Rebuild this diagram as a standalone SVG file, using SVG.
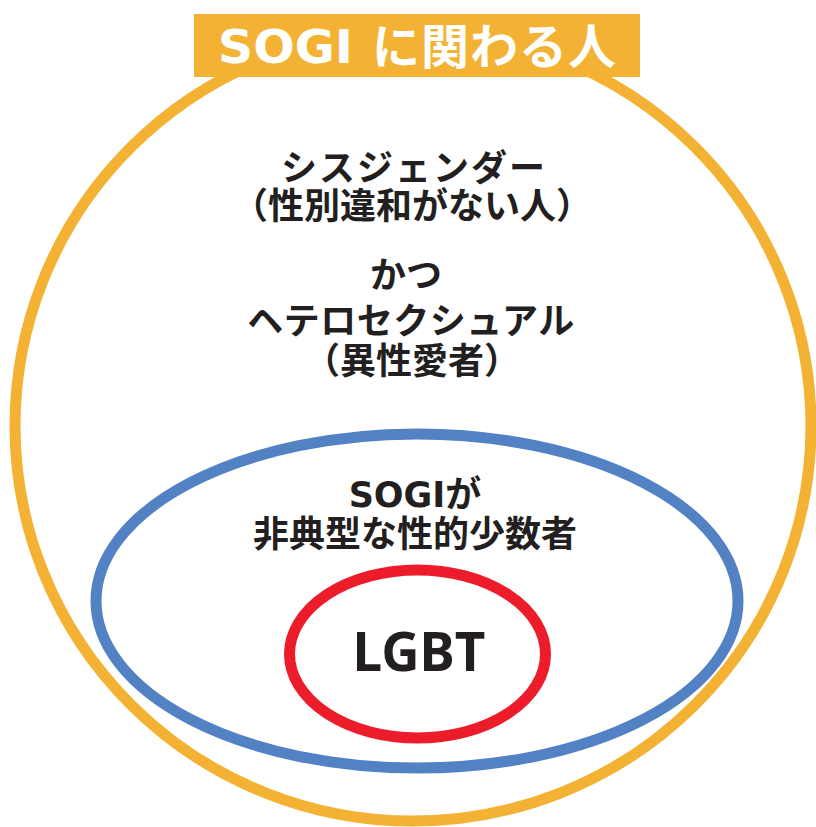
<svg xmlns="http://www.w3.org/2000/svg" width="816" height="827" viewBox="0 0 816 827">
<style>
.ring{fill:none;stroke-width:11}
.jp{font-family:"Noto Sans CJK JP","Noto Sans",sans-serif;font-weight:bold;fill:#231F20;font-size:36px;text-anchor:middle}
.lat{font-family:"DejaVu Sans","Noto Sans",sans-serif;font-weight:bold}
</style>
<rect width="816" height="827" fill="#FFFFFF"/>
<g id="outer">
<ellipse class="ring" cx="413" cy="426" rx="398" ry="395" stroke="#F4B234"/>
</g>
<g id="title">
<rect x="194" y="14" width="446" height="63" fill="#F4B234"/>
<text x="218" y="63" class="lat" font-size="47" fill="#FFFFFF" textLength="135" lengthAdjust="spacingAndGlyphs">SOGI</text>
<text x="372" y="64" font-family="Noto Sans CJK JP, sans-serif" font-weight="bold" font-size="48" fill="#FFFFFF" letter-spacing="1">に関わる人</text>
</g>
<g id="majority">
<text class="jp" x="414" y="181" letter-spacing="2">シスジェンダー</text>
<text class="jp" x="412" y="219">（性別違和がない人）</text>
<text class="jp" x="406" y="288">かつ</text>
<text class="jp" x="411" y="334" letter-spacing="0.5">ヘテロセクシュアル</text>
<text class="jp" x="412" y="374">（異性愛者）</text>
</g>
<g id="sogi-minority">
<ellipse class="ring" cx="417" cy="601" rx="321" ry="167" stroke="#5282C4"/>
<text class="jp" x="415" y="507"><tspan class="lat" font-size="35">SOGI</tspan>が</text>
<text class="jp" x="415" y="547">非典型な性的少数者</text>
</g>
<g id="lgbt">
<ellipse class="ring" cx="417.5" cy="654" rx="128" ry="84" stroke="#EC1C2A"/>
<text x="419" y="671" font-family="Noto Sans, sans-serif" font-weight="bold" font-size="53" fill="#231F20" text-anchor="middle">LGBT</text>
</g>
<g id="connectors"/>
</svg>
